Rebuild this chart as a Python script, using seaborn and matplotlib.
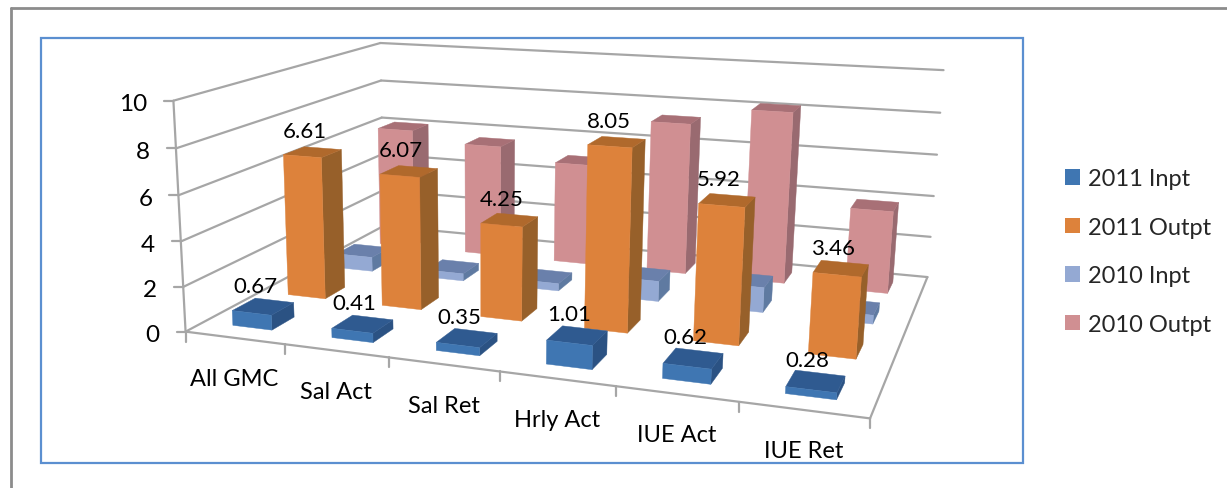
import numpy as np
import pandas as pd
import matplotlib
matplotlib.use("Agg")
import matplotlib.pyplot as plt
from matplotlib.patches import Patch, Rectangle
import seaborn as sns

categories = ["All GMC", "Sal Act", "Sal Ret", "Hrly Act", "IUE Act", "IUE Ret"]
series_names = ["2011 Inpt", "2011 Outpt", "2010 Inpt", "2010 Outpt"]
inpt_2011 = [0.67, 0.41, 0.35, 1.01, 0.62, 0.28]
outpt_2011 = [6.61, 6.07, 4.25, 8.05, 5.92, 3.46]
inpt_2010 = [0.7, 0.35, 0.35, 0.95, 1.15, 0.4]
outpt_2010 = [6.1, 5.6, 5.0, 7.35, 8.2, 3.9]
y_ticks = [0, 2, 4, 6, 8, 10]

# front, top and side shades of each series
front_colors = ["#3f76b2", "#dd823b", "#94a9d3", "#d08f92"]
top_colors = ["#2f5a90", "#b0692c", "#6a80ab", "#a87076"]
side_colors = ["#2b5283", "#97602a", "#5f7aa1", "#996a70"]

sns.set_theme(style="white")
plt.rcParams["font.family"] = ["Lato", "DejaVu Sans"]

long_table = pd.DataFrame({
    "category": categories * 4,
    "series": np.repeat(series_names, 6),
    "value": inpt_2011 + outpt_2011 + inpt_2010 + outpt_2010,
})

fig = plt.figure(figsize=(12.27, 4.89), dpi=100)
ax = fig.add_axes([0, 0, 1, 1])
ax.set_xlim(0, 1227)
ax.set_ylim(489, 0)
ax.axis("off")

# Camera calibration: (category, series depth, value) -> screen position
world = np.array([[0, 0, 0], [6, 0, 0], [6, 4, 0], [0, 4, 0],
                  [0, 0, 10], [0, 4, 10], [6, 4, 10]], float)
screen = np.array([[187, 331], [870, 421], [928, 276], [382, 229],
                   [172, 102], [382, 43], [943, 72]], float)
rows, rhs = [], []
for (wx, wy, wz), (sx, sy) in zip(world, screen):
    rows.append([wx, wy, wz, 1, 0, 0, 0, 0, -sx * wx, -sx * wy, -sx * wz])
    rhs.append(sx)
    rows.append([0, 0, 0, 0, wx, wy, wz, 1, -sy * wx, -sy * wy, -sy * wz])
    rhs.append(sy)
params = np.linalg.lstsq(np.array(rows), np.array(rhs), rcond=None)[0]
camera = np.append(params, 1).reshape(3, 4)


def project(x, d, z):
    h = camera @ np.array([x, d, z, 1.0])
    return h[0] / h[2], h[1] / h[2]


GRID = "#a6a6a6"


def edge(a, b, **kw):
    pa, pb = project(*a), project(*b)
    ax.plot([pa[0], pb[0]], [pa[1], pb[1]], color=GRID, lw=1.6,
            solid_capstyle="round", zorder=kw.get("zorder", 2))


# Outer and inner frames
ax.plot([11, 11], [489, 9], color="#8c8c8c", lw=2.0, zorder=1)
ax.plot([11, 1227], [9, 9], color="#8c8c8c", lw=2.0, zorder=1)
ax.add_patch(Rectangle((40.5, 38.5), 982, 425, fill=False, ec="#5b8fd0", lw=1.6, zorder=1))

# Walls, floor and axis ticks
for v in y_ticks:
    edge((0, 0, v), (0, 4, v))
    edge((0, 4, v), (6, 4, v))
    px, py = project(0, 0, v)
    ax.plot([px - 9, px], [py, py], color=GRID, lw=1.6, zorder=2)
    ax.text(px - 26, py + 3, str(v), ha="right", va="center", fontsize=17.5, color="black")
edge((0, 0, 0), (0, 0, 10))
edge((0, 0, 0), (6, 0, 0))
edge((6, 0, 0), (6, 4, 0))
for i in range(7):
    px, py = project(i, 0, 0)
    ax.plot([px, px], [py, py + 10], color=GRID, lw=1.6, zorder=2)
for i, name in enumerate(categories):
    px, py = project(i + 0.5, 0, 0)
    ax.text(px, py + 41, name, ha="center", va="center", fontsize=17, color="black")

# Bars, painted from the back row forward and left to right
BAR = 0.4
order = 3
for s in range(3, -1, -1):
    name = series_names[s]
    values = long_table.loc[long_table["series"] == name, "value"].to_numpy()
    for c, v in enumerate(values):
        x0, x1 = c + 0.5 - BAR / 2, c + 0.5 + BAR / 2
        d0, d1 = s + 0.5 - BAR / 2, s + 0.5 + BAR / 2
        faces = [
            ([(x1, d0, 0), (x1, d1, 0), (x1, d1, v), (x1, d0, v)], side_colors[s]),
            ([(x0, d0, v), (x1, d0, v), (x1, d1, v), (x0, d1, v)], top_colors[s]),
            ([(x0, d0, 0), (x1, d0, 0), (x1, d0, v), (x0, d0, v)], front_colors[s]),
        ]
        for corners, color in faces:
            pts = np.array([project(*p) for p in corners])
            ax.fill(pts[:, 0], pts[:, 1], color=color, lw=0.3, zorder=order)
            order += 1

# Value labels for the two 2011 series
for s, values in enumerate([inpt_2011, outpt_2011]):
    for c, v in enumerate(values):
        px, py = project(c + 0.5, s + 0.5, v)
        ax.text(px - 8, py - 21, f"{v:.2f}", ha="center", va="center",
                fontsize=16, color="black", zorder=order + 1)

handles = [Patch(facecolor=col, edgecolor="none") for col in front_colors]
ax.legend(handles, series_names, loc="upper left", bbox_to_anchor=(1065 / 1227, 1 - 169 / 489),
          frameon=False, fontsize=17, handlelength=0.64, handleheight=0.64,
          labelspacing=1.17, handletextpad=0.34, borderpad=0.0, borderaxespad=0.0)

fig.savefig("out.png", dpi=100)
